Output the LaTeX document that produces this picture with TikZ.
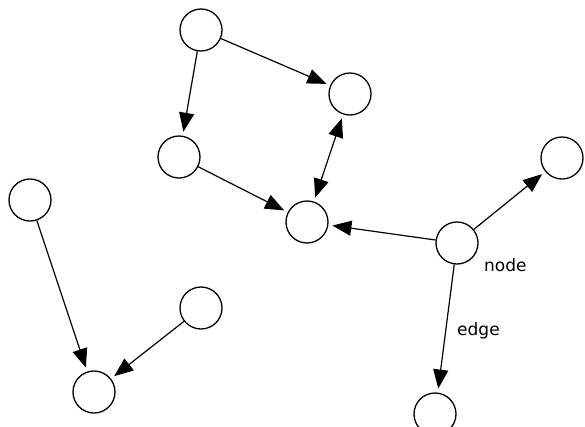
\documentclass[tikz,border=0pt]{standalone}
\usepackage{fontspec}
\setmainfont{DejaVu Sans}
\usetikzlibrary{arrows.meta}
\begin{document}
\begin{tikzpicture}[x=1pt,y=-1pt,
  vtx/.style={circle,draw=black,line width=1.3pt,minimum size=42pt,inner sep=0pt,fill=white},
  tip/.tip={Triangle[length=19pt,width=15pt]},
  conn/.style={line width=1.2pt,-tip,shorten >=4pt},
  lbl/.style={font=\fontsize{17pt}{20pt}\selectfont,inner sep=0pt,anchor=base west}]
\clip (0,0) rectangle (585,426);
\useasboundingbox (0,0) rectangle (585,426);
\fill[white] (0,0) rectangle (585,426);
\node[vtx] (a) at (201,30) {};
\node[vtx] (b) at (350,94) {};
\node[vtx] (c) at (179,157) {};
\node[vtx] (d) at (307,222) {};
\node[vtx] (e) at (457,243) {};
\node[vtx] (f) at (562,158) {};
\node[vtx] (g) at (30,200) {};
\node[vtx] (h) at (201,308) {};
\node[vtx] (i) at (94,392) {};
\node[vtx] (j) at (435,414) {};
\node[lbl] (nl) at (484,271) {node};
\node[lbl] (el) at (457,335) {edge};
\draw[conn] (a) -- (b);
\draw[conn] (a) -- (c);
\draw[conn] (c) -- (d);
\draw[line width=1.2pt,tip-tip,shorten >=4pt,shorten <=4pt] (b) -- (d);
\draw[conn] (e) -- (d);
\draw[conn] (e) -- (f);
\draw[conn] (e) -- (j);
\draw[conn] (g) -- (i);
\draw[conn] (h) -- (i);
\end{tikzpicture}
\end{document}
